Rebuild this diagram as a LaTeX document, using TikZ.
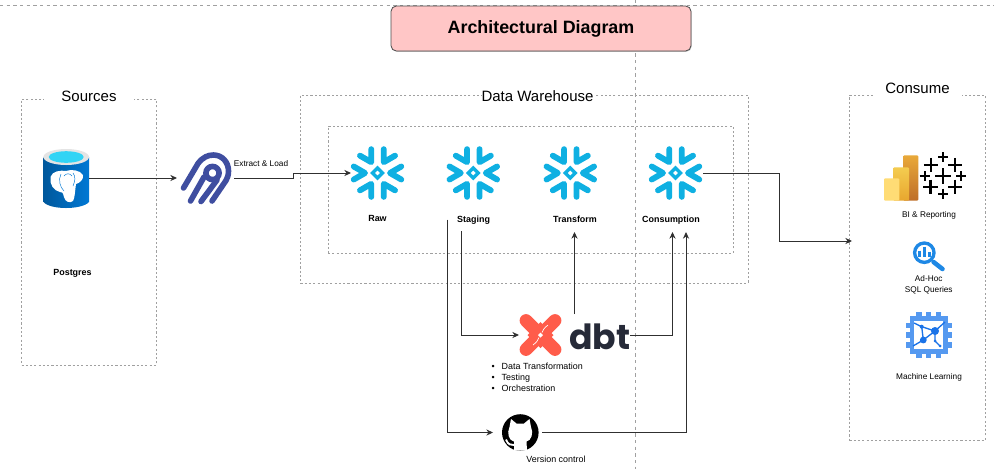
\documentclass[tikz,border=0pt]{standalone}
\usepackage{fontspec}
\setmainfont{Liberation Sans}
\newfontfamily\dbtfont{Poppins}
\usetikzlibrary{arrows.meta,shadows}
\definecolor{flakeblue}{HTML}{0FB0E2}
\definecolor{guidegray}{HTML}{A0A0A0}
\definecolor{flowgray}{HTML}{303030}
\definecolor{titlepink}{HTML}{FFC6C6}
\definecolor{airbyteblue}{HTML}{3F4EA0}
\definecolor{dbtred}{HTML}{FF5C4A}
\definecolor{dbtdark}{HTML}{262A38}
\definecolor{lensblue}{HTML}{1E88E5}
\definecolor{chipblue}{HTML}{5599F0}
\definecolor{chipdark}{HTML}{1A73E8}
\definecolor{pgleft}{HTML}{00589C}
\definecolor{pgright}{HTML}{0078D4}
\definecolor{pgrim}{HTML}{E4E4E4}
\definecolor{pgwater}{HTML}{32D4F5}
\definecolor{bilow}{HTML}{FFDC75}
\definecolor{bimidtop}{HTML}{F4CC50}
\definecolor{bimidbot}{HTML}{E8A62E}
\definecolor{bihightop}{HTML}{E9A93A}
\definecolor{bihighbot}{HTML}{BE6E28}
\tikzset{
  sized/.style 2 args={minimum width=#1*0.75pt,minimum height=#2*0.75pt},
  zonebox/.style={draw=guidegray,line width=0.5pt,dash pattern=on 1.6pt off 1.6pt,inner sep=0pt,outer sep=0pt},
  guideline/.style={draw=guidegray,line width=0.4pt,dash pattern=on 2.4pt off 2.6pt},
  headlabel/.style={fill=white,inner xsep=0pt,inner ysep=0pt,font=\fontsize{11.25}{13}\selectfont},
  iconbox/.style={inner sep=0pt,outer sep=0pt},
  boldlabel/.style={font=\bfseries\fontsize{6.7}{8.25}\selectfont,inner sep=0pt},
  smalllabel/.style={font=\fontsize{6.2}{8.25}\selectfont,inner sep=0pt,align=center},
  flow/.style={-{Stealth[length=5pt,width=4.6pt]},draw=flowgray,line width=0.7pt},
  snowflake/.pic={
    \foreach \a in {0,60,...,300}
      \draw[flakeblue,line width=4.4pt,line cap=round,line join=round]
        (\a:12.5) ++(\a+30:13) -- (\a:12.5) -- ++(\a-30:13);
    \draw[flakeblue,line width=2.5pt] (5,0) -- (0,5) -- (-5,0) -- (0,-5) -- cycle;
  }
}
\begin{document}
\begin{tikzpicture}[x=0.75pt,y=-0.75pt]
  \fill[white] (0,0) rectangle (994,469);
  \useasboundingbox (0,0) rectangle (994,469);
  % page guides behind the title
  \coordinate (guideL) at (0,5);
  \coordinate (guideR) at (994,5);
  \coordinate (guideT) at (635,0);
  \coordinate (guideB) at (635,469);
  \draw[guideline] (guideL) -- (guideR);
  \draw[guideline] (guideT) -- (guideB);
  % title
  \node[sized={300}{45},draw=black!70,line width=0.6pt,fill=titlepink,rounded corners=4pt,
    drop shadow={shadow xshift=0.5pt,shadow yshift=-0.6pt,opacity=0.45},
    font=\bfseries\fontsize{13.4}{16}\selectfont] (title) at (541,28.5) {Architectural Diagram};
  % zones
  \node[zonebox,sized={135}{266}] (sources) at (89,232) {};
  \node[zonebox,sized={447.5}{188}] (warehouse) at (524.2,189) {};
  \node[zonebox,sized={405}{127}] (layers) at (530.5,189.5) {};
  \node[zonebox,sized={135.5}{345.5}] (consume) at (917.2,268) {};
  \node[headlabel,sized={90}{18}] (sourceshead) at (89,96) {Sources};
  \node[headlabel,sized={112}{18}] (warehousehead) at (537.5,95.7) {Data Warehouse};
  \node[headlabel,sized={89}{18}] (consumehead) at (917.5,88) {Consume};
  % icon frames that the connectors attach to
  \node[iconbox,sized={45.5}{58}] (postgres) at (66.2,178) {};
  \node[iconbox,sized={57}{52}] (airbyte) at (205.5,178) {};
  \node[iconbox,sized={53}{52}] (raw) at (377.5,173) {};
  \node[iconbox,sized={53}{52}] (staging) at (473.3,173) {};
  \node[iconbox,sized={53}{52}] (transform) at (570.3,173) {};
  \node[iconbox,sized={54}{52}] (consumption) at (676,173) {};
  \node[iconbox,sized={111}{42}] (dbt) at (574.5,335) {};
  \node[iconbox,sized={49}{37}] (github) at (517.5,432.5) {};
  % postgres cylinder
  \shade[left color=pgleft,right color=pgright]
    (43.5,157) -- (43.5,202) .. controls (50,210) and (82,210) .. (89,202) -- (89,157) -- cycle;
  \fill[pgrim] (66.2,157) ellipse [x radius=22.8,y radius=8];
  \fill[pgwater] (66.2,157) ellipse [x radius=17.5,y radius=5.8];
  \fill[white] (50.5,177) .. controls (52,171) and (61,170) .. (66,171)
    .. controls (71,169) and (80,170) .. (83,175) .. controls (84,179) and (80,183) .. (76,184)
    .. controls (75,190) and (75,198) .. (73,201) .. controls (70,203.5) and (65,202) .. (64,197)
    .. controls (63,193) and (62,191) .. (60,192) .. controls (54,191) and (49,184) .. (50.5,177) -- cycle;
  \draw[pgright,line width=0.35pt] (61,174) .. controls (58,180) and (60,187) .. (64,191);
  \draw[pgright,line width=0.35pt] (73,173) .. controls (76,177) and (75,181) .. (73,186);
  \draw[pgright,line width=0.35pt] (64,176) .. controls (66,173) and (70,173) .. (72,176);
  % airbyte mark
  \begin{scope}[airbyteblue,line width=4.2pt,line cap=round,line join=round]
    \draw (183.5,188) -- (198,163.5) .. controls (203,157) and (208,155) .. (213.5,155)
      .. controls (222,155) and (228.5,162) .. (228.5,171) .. controls (228.5,175) and (227.5,178) .. (226,180.5) -- (212,201);
    \draw (190.5,201) -- (204,177);
    \draw (201,201.5) -- (217,180);
    \draw (212.5,173) circle (6.6);
  \end{scope}
  % snowflakes
  \pic at (raw) {snowflake};
  \pic at (staging) {snowflake};
  \pic at (transform) {snowflake};
  \pic at (675.5,173) {snowflake};
  % dbt mark and word
  \draw[dbtred,line width=9.6pt,line cap=round] (526,320.5) -- (555,349.5);
  \draw[dbtred,line width=9.6pt,line cap=round] (555,320.5) -- (526,349.5);
  \fill[dbtred] (540.5,322) -- (553.5,335) -- (540.5,348) -- (527.5,335) -- cycle;
  \draw[white,line width=0.5pt] (548,325) .. controls (544,328) and (543,330) .. (542,332.5);
  \draw[white,line width=0.5pt] (533,345) .. controls (537,342) and (538,340) .. (539,337.5);
  \fill[white] (543,335) -- (540.5,337.5) -- (538,335) -- (540.5,332.5) -- cycle;
  \node[iconbox,text=dbtdark,font=\dbtfont\bfseries\fontsize{26}{28}\selectfont,anchor=base] (dbtword) at (600,349) {dbt};
  % github mark
  \fill[black] (520.3,432.5) circle (18.3);
  \fill[white] (511,419) -- (516.5,423.5) -- (524,423.5) -- (529.5,419) -- (531,427)
    .. controls (534,433) and (531,441) .. (526.5,441.5) -- (527,450.6) -- (514,450.6) -- (514,441.5)
    .. controls (509,441) and (506.5,433) .. (509.5,427) -- cycle;
  \draw[white,line width=1.4pt] (506,439.5) .. controls (508,445) and (511,445) .. (514,445);
  % power bi bars
  \shade[top color=bihightop,bottom color=bihighbot,rounded corners=0.8pt] (903.3,155.3) rectangle (918.3,200.7);
  \shade[top color=bimidtop,bottom color=bimidbot,rounded corners=0.8pt] (893.3,167.3) rectangle (909,200.7);
  \fill[bilow,rounded corners=0.8pt] (884,178.3) rectangle (899.3,200.7);
  % tableau crosses
  \foreach \px/\py/\half/\thick in {943/176/8/2,943.3/157.3/5/1.3,943/193.7/5/1.3,924.7/176/5/1.3,961.3/176/5/1.3,931/165/7.2/1.8,955/165/7.2/1.8,930.3/186.7/7.2/1.8,955/186.7/7.2/1.8}{
    \draw[black,line width=\thick pt] (\px-\half,\py) -- (\px+\half,\py);
    \draw[black,line width=\thick pt] (\px,\py-\half) -- (\px,\py+\half);
  }
  % bigquery lens
  \draw[lensblue,line width=2.5pt] (924.3,252.7) circle (9.7);
  \draw[lensblue,line width=3.4pt,line cap=round] (933.5,262) -- (942.5,269);
  \draw[lensblue,line width=2pt] (919.3,250.7) -- (919.3,257);
  \draw[lensblue,line width=2pt] (924.3,246.7) -- (924.3,257);
  \draw[lensblue,line width=2pt] (929.3,251.7) -- (929.3,257);
  % machine learning chip
  \foreach \pin in {919,928.7,938.7}{
    \draw[chipblue,line width=3.9pt] (\pin,312.3) -- (\pin,357.7);
  }
  \foreach \pin in {325.7,335,345}{
    \draw[chipblue,line width=3.9pt] (906,\pin) -- (951.7,\pin);
  }
  \draw[chipblue,line width=3.6pt,fill=white] (912,318.5) rectangle (945.8,351.5);
  \draw[chipdark,line width=1pt] (913,346) -- (923.3,340) -- (935,331) -- (945,322);
  \draw[chipdark,line width=1pt] (921.7,326.7) -- (923.3,340);
  \draw[chipdark,line width=1pt] (921.7,326.7) -- (935,331) -- (935,341) -- (940,346);
  \draw[chipdark,line width=1pt] (914,323) -- (921.7,326.7);
  \fill[chipdark] (935,331) circle (4);
  \fill[chipdark] (923.3,340) circle (3.4);
  \fill[chipdark] (921.7,326.7) circle (2);
  \fill[chipdark] (935,341) circle (1.5);
  \fill[chipdark] (940,346) circle (1.5);
  % labels
  \node[boldlabel] (postgreslabel) at (72.5,273) {Postgres};
  \node[boldlabel] (rawlabel) at (377.5,218.3) {Raw};
  \node[boldlabel] (staginglabel) at (473.6,220) {Staging};
  \node[boldlabel] (transformlabel) at (575,219.6) {Transform};
  \node[boldlabel] (consumptionlabel) at (671,220) {Consumption};
  \node[smalllabel] (extractlabel) at (261,164) {Extract \& Load};
  \node[smalllabel] (bilabel) at (929,215.7) {BI \& Reporting};
  \node[smalllabel] (adhoclabel) at (928.7,284.3) {Ad-Hoc\\SQL Queries};
  \node[smalllabel] (mllabel) at (929,377.7) {Machine Learning};
  \node[smalllabel,font=\fontsize{6.7}{8.25}\selectfont] (versionlabel) at (556,459.5) {Version control};
  \node[smalllabel,font=\fontsize{6.7}{8.25}\selectfont,align=left,anchor=west] (dbtlist) at (491.4,377.5) {\textbullet\hspace{5.2pt}Data Transformation\\\textbullet\hspace{5.2pt}Testing\\\textbullet\hspace{5.2pt}Orchestration};
  % free connector ends
  \coordinate (elbowload) at (293,178);
  \coordinate (elbowserve) at (779,173);
  \coordinate (servein) at (852,241);
  \coordinate (stagingout) at (447,219.5);
  \coordinate (stagingdbt) at (461,231);
  \coordinate (transformin) at (574.5,232);
  \coordinate (consumptionin) at (672.5,232);
  \coordinate (consumptiongit) at (686,232);
  % connectors
  \draw[flow] (postgres.east) -- (airbyte.west);
  \draw[flow] (airbyte.east) -- (elbowload) |- (raw.west);
  \draw[flow] (consumption.east) -- (elbowserve) |- (servein);
  \draw[flow] (stagingout) |- (github.west);
  \draw[flow] (stagingdbt) |- (dbt.west);
  \draw[flow] (dbt.north) -- (transformin);
  \draw[flow] (dbt.east) -| (consumptionin);
  \draw[flow] (github.east) -| (consumptiongit);
\end{tikzpicture}
\end{document}
